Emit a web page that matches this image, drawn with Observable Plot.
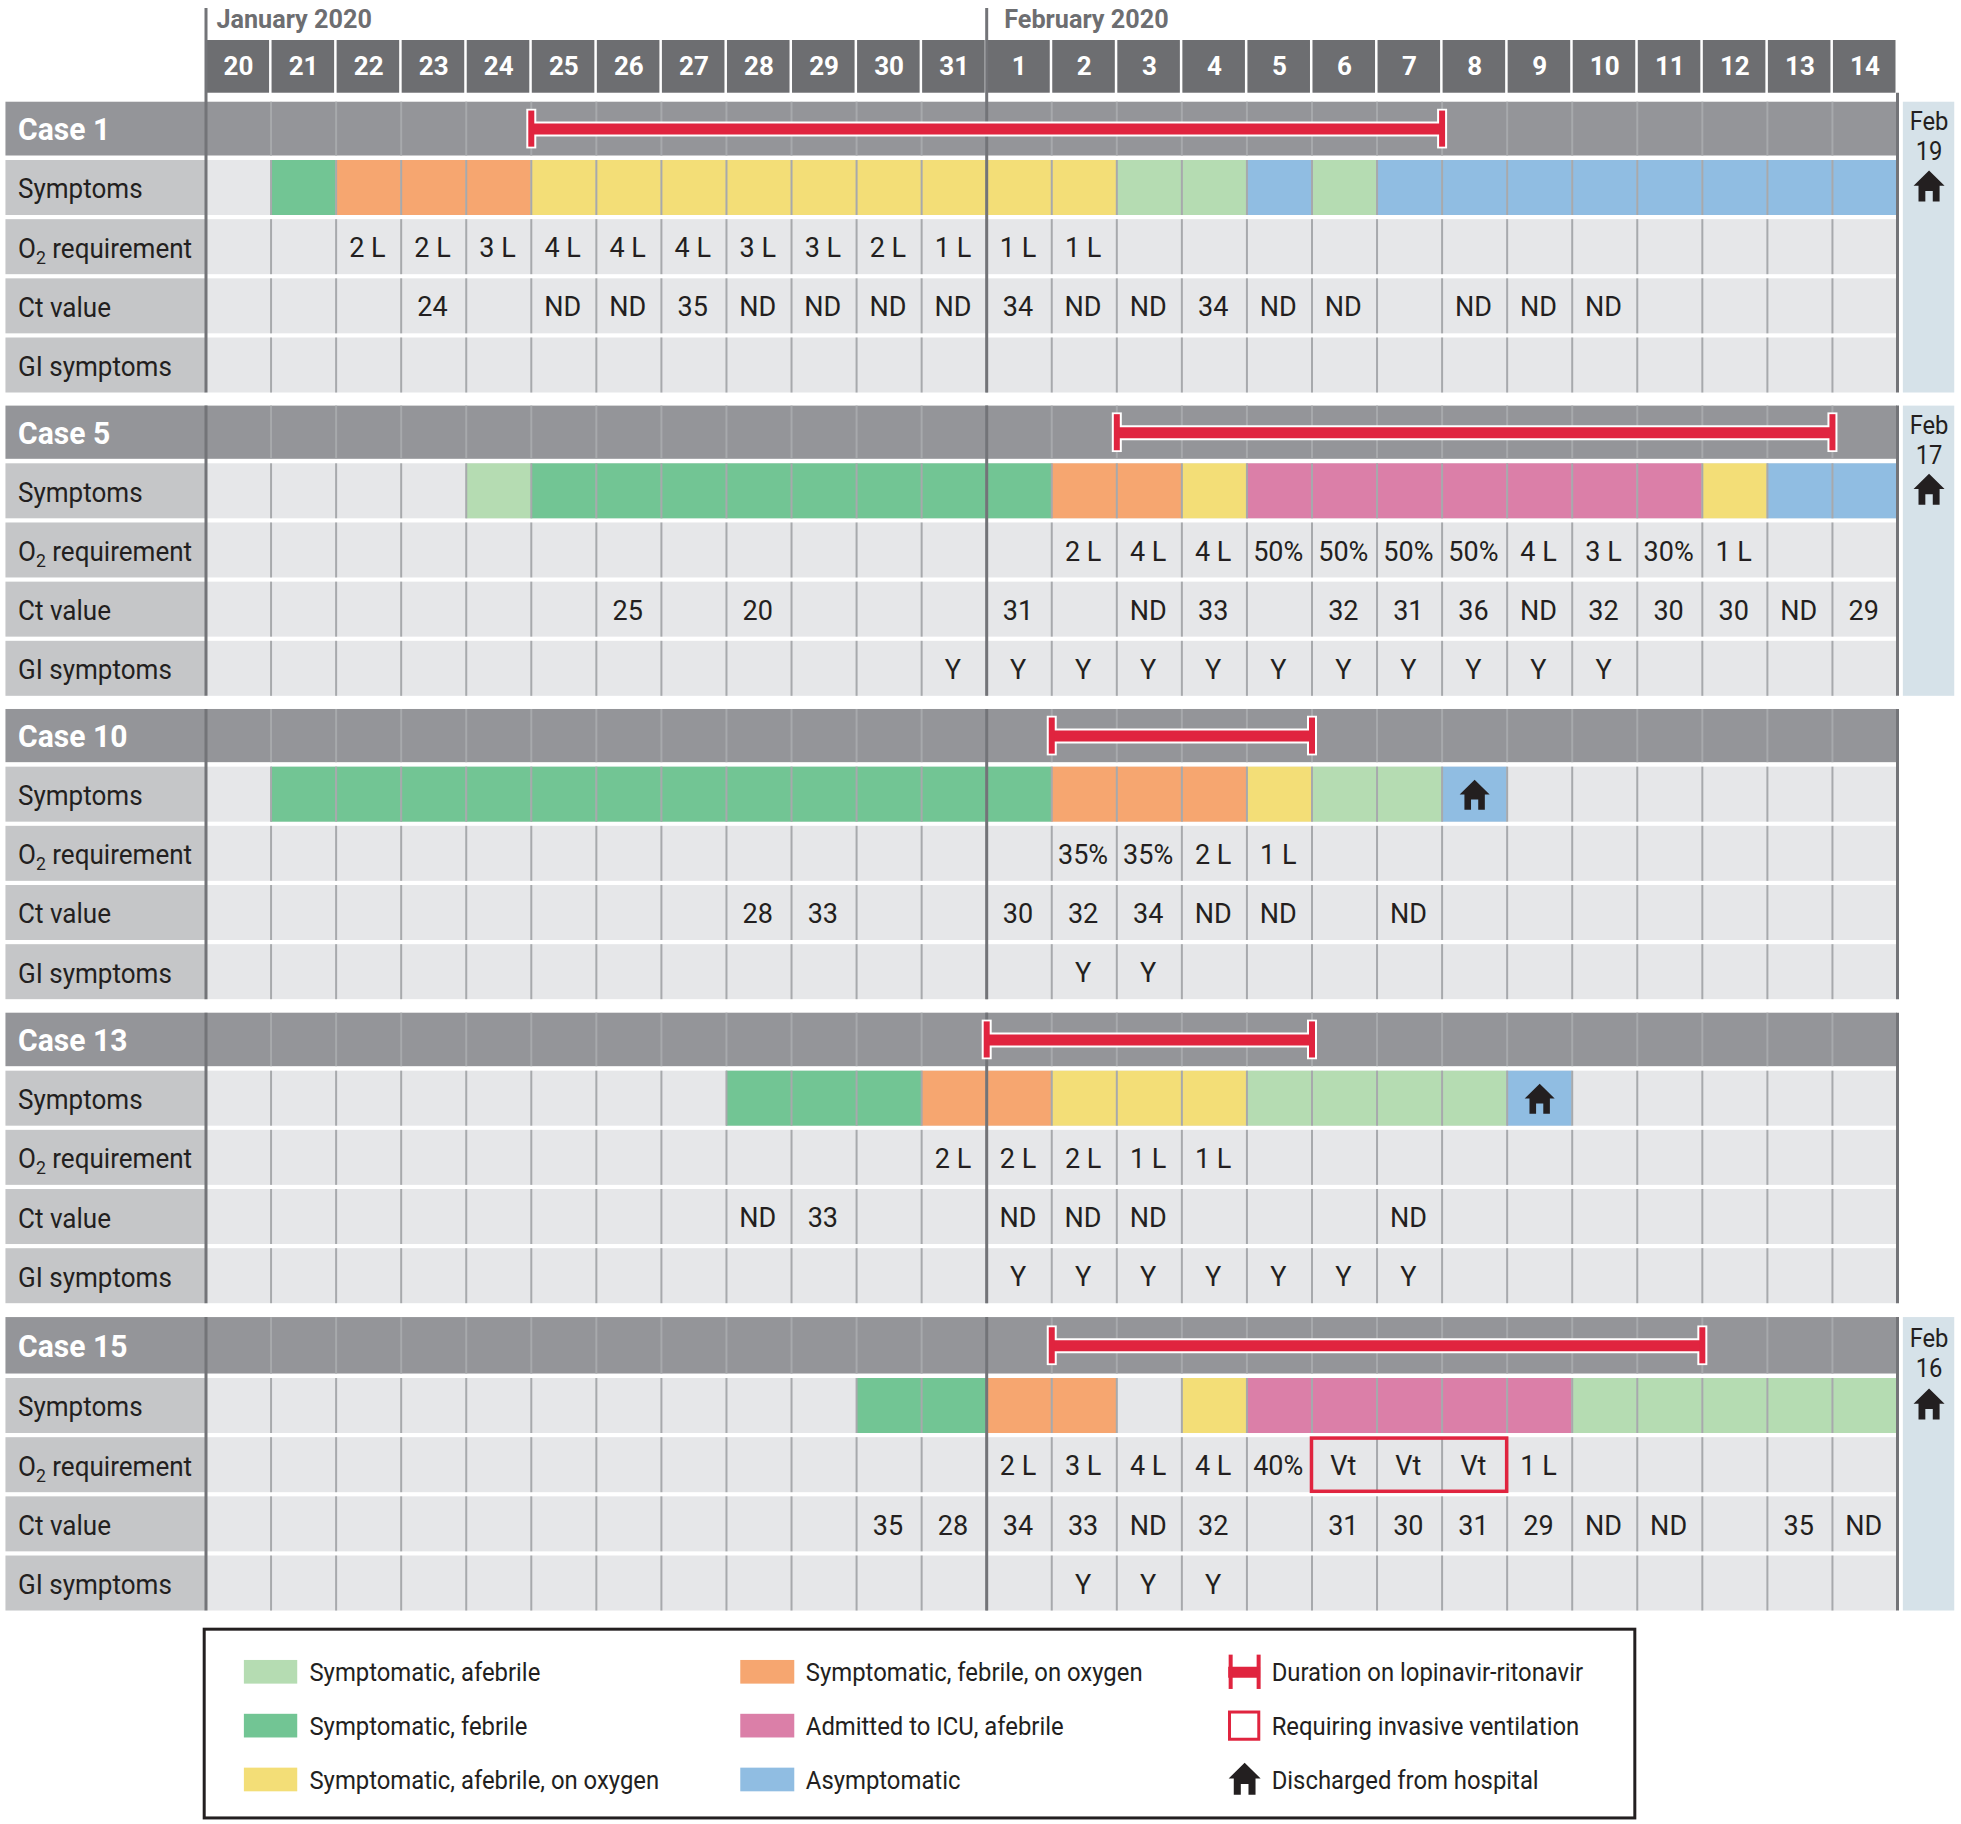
<!DOCTYPE html>
<html><head><meta charset="utf-8">
<style>html,body{margin:0;padding:0;background:#fff}svg{display:block}</style>
<script src="https://cdn.jsdelivr.net/npm/d3@7"></script>
<script src="https://cdn.jsdelivr.net/npm/@observablehq/plot@0.6"></script>
</head><body><script>
const days = ["20","21","22","23","24","25","26","27","28","29","30","31","1","2","3","4","5","6","7","8","9","10","11","12","13","14"];
const months = [{label:"January 2020",day:0.16},{label:"February 2020",day:12.27}];
const rowLabels = ["Symptoms","O₂ requirement","Ct value","GI symptoms"];
const caseNames = ["Case 1","Case 5","Case 10","Case 13","Case 15"];

const statusLabels = ["Symptomatic, afebrile","Symptomatic, febrile","Symptomatic, afebrile, on oxygen","Symptomatic, febrile, on oxygen","Admitted to ICU, afebrile","Asymptomatic"];
const statusColors = ["#B5DCB2","#72C594","#F3DE77","#F6A670","#DB7FA8","#90BDE2"];
// a=afebrile f=febrile y=afebrile+O2 o=febrile+O2 p=ICU b=asymptomatic, one letter per day, . = none
const statusCodes = "afyopb";
const symptoms1  = ".fooo" + "yyyyyyy" + "yy" + "aa" + "b" + "a" + "bbbbbbbb";
const symptoms5  = "....a" + "fffffff" + "f" + "oo" + "y" + "ppppppp" + "y" + "bb";
const symptoms10 = ".ffff" + "fffffff" + "f" + "ooo" + "y" + "aa" + "b" + "......";
const symptoms13 = "....." + "..." + "fff" + "o" + "o" + "yyy" + "aaaa" + "b" + ".....";
const symptoms15 = "....." + "....." + "ff" + "oo" + "." + "y" + "ppppp" + "aaaaa";
const o2_1  = ["","","2 L","2 L","3 L","4 L","4 L","4 L","3 L","3 L","2 L","1 L","1 L","1 L","","","","","","","","","","","",""];
const o2_5  = ["","","","","","","","","","","","","","2 L","4 L","4 L","50%","50%","50%","50%","4 L","3 L","30%","1 L","",""];
const o2_10 = ["","","","","","","","","","","","","","35%","35%","2 L","1 L","","","","","","","","",""];
const o2_13 = ["","","","","","","","","","","","2 L","2 L","2 L","1 L","1 L","","","","","","","","","",""];
const o2_15 = ["","","","","","","","","","","","","2 L","3 L","4 L","4 L","40%","Vt","Vt","Vt","1 L","","","","",""];
const ct_1  = ["","","","24","","ND","ND","35","ND","ND","ND","ND","34","ND","ND","34","ND","ND","","ND","ND","ND","","","",""];
const ct_5  = ["","","","","","","25","","20","","","","31","","ND","33","","32","31","36","ND","32","30","30","ND","29"];
const ct_10 = ["","","","","","","","","28","33","","","30","32","34","ND","ND","","ND","","","","","","",""];
const ct_13 = ["","","","","","","","","ND","33","","","ND","ND","ND","","","","ND","","","","","","",""];
const ct_15 = ["","","","","","","","","","","35","28","34","33","ND","32","","31","30","31","29","ND","ND","","35","ND"];
const gi_1  = "..........................";
const gi_5  = "...........YYYYYYYYYYY....";
const gi_10 = ".............YY...........";
const gi_13 = "............YYYYYYY.......";
const gi_15 = ".............YYY..........";
const symptomSeries = [symptoms1,symptoms5,symptoms10,symptoms13,symptoms15];
const o2Series = [o2_1,o2_5,o2_10,o2_13,o2_15];
const ctSeries = [ct_1,ct_5,ct_10,ct_13,ct_15];
const giSeries = [gi_1,gi_5,gi_10,gi_13,gi_15];
const drugStart = [5,14,13,12,13];
const drugEnd   = [19,25,17,17,23];
const dischargeLabel = [["Feb","19"],["Feb","17"],null,null,["Feb","16"]];
const dischargeDay = [null,null,19,20,null];
const ventStart = [null,null,null,null,17];
const ventEnd   = [null,null,null,null,20];

const legendFill = [{i:0,col:0,row:0},{i:1,col:0,row:1},{i:2,col:0,row:2},{i:3,col:1,row:0},{i:4,col:1,row:1},{i:5,col:1,row:2}];
const legendOther = ["Duration on lopinavir-ritonavir","Requiring invasive ventilation","Discharged from hospital"];

// layout, in scale units (days across, rows down)
const font = 'Roboto,sans-serif';
const caseBase = [0,5.126,10.253,15.391,20.585], headTop = [0.015,0.025,0.025,0.02,-0.03], headBottom = 0.924;
const cellH = 0.9295, ink = "#231F20", red = "#E0243F";
const grid = "#A7A9AC", dark = "#6D6E71", frame = "#737478";
const left = -3.075, labelX = -2.89, sideL = 26.09, sideR = 26.88, sideC = 26.485;
const legendX = [0.59,8.22,15.72], legendW = [0.82,0.83,0.49], legendText = [1.59,9.22,16.38];
const legendY = [26.55,27.46,28.37];
const rowTop = (c,r) => caseBase[c] + r;
const headMid = c => caseBase[c] + (headTop[c]+headBottom)/2;

const cases = caseNames.map((name,c)=>({name,c}));
const allRows = cases.flatMap(({c})=>[1,2,3,4].map(r=>({c,r})));
const cells = [];
symptomSeries.forEach((s,c)=>[...s].forEach((k,day)=>{ if(k!==".") cells.push({c,day,status:statusLabels[statusCodes.indexOf(k)]}); }));
const texts = [];
[[o2Series,2],[ctSeries,3]].forEach(([series,r])=>series.forEach((vals,c)=>vals.forEach((t,day)=>{ if(t) texts.push({c,r,day,t}); })));
giSeries.forEach((s,c)=>[...s].forEach((k,day)=>{ if(k==="Y") texts.push({c,r:4,day,t:"Y"}); }));
const gridLines = allRows.flatMap(({c,r})=>d3.range(1,26).map(day=>({c,r,day,y1:rowTop(c,r),y2:rowTop(c,r)+cellH})))
  .concat(cases.flatMap(({c})=>d3.range(1,26).map(day=>({c,r:0,day,y1:caseBase[c]+headTop[c],y2:caseBase[c]+headBottom}))));
const drug = cases.map(({c})=>({c,a:drugStart[c],b:drugEnd[c]}));
const drugEnds = drug.flatMap(d=>[d.a,d.b].map(x=>({x,c:d.c})));
const sides = cases.filter(({c})=>dischargeLabel[c]).map(({c})=>({c,l:dischargeLabel[c]}));
const vents = cases.filter(({c})=>ventStart[c]!=null).map(({c})=>({c,a:ventStart[c],b:ventEnd[c]}));
const homes = cases.filter(({c})=>dischargeDay[c]!=null).map(({c})=>({c,day:dischargeDay[c]}));

const house = {draw(ctx,size){const r=Math.sqrt(size/Math.PI);
  ctx.moveTo(0,-r);ctx.lineTo(r,-0.02*r);ctx.lineTo(0.68*r,-0.02*r);ctx.lineTo(0.68*r,r);ctx.lineTo(0.24*r,r);ctx.lineTo(0.24*r,0.32*r);
  ctx.lineTo(-0.24*r,0.32*r);ctx.lineTo(-0.24*r,r);ctx.lineTo(-0.68*r,r);ctx.lineTo(-0.68*r,-0.02*r);ctx.lineTo(-r,-0.02*r);ctx.closePath();}};

const chart = Plot.plot({
  width:1961,height:1824,margin:0,
  x:{domain:[0,26],range:[205.5,1897],axis:null},
  y:{domain:[0,1],range:[100.83,160],axis:null},
  color:{domain:statusLabels,range:statusColors},
  style:{background:"#fff",fontFamily:font},
  marks:[
    // column headers
    Plot.rect(days,{x1:(d,i)=>i,x2:(d,i)=>i+1,y1:-1.028,y2:-0.137,fill:dark,insetRight:1.5,insetLeft:1}),
    Plot.text(days,{x:(d,i)=>i+0.5,y:-0.585,text:d=>d,fill:"#fff",fontSize:26,fontWeight:"bold",fontFamily:font}),
    Plot.text(months,{x:"day",y:-1.383,text:"label",fill:dark,fontSize:25.2,fontWeight:"bold",textAnchor:"start",fontFamily:font}),
    // side panels
    Plot.rect(sides,{x1:sideL,x2:sideR,y1:d=>caseBase[d.c]+headTop[d.c],y2:d=>rowTop(d.c,4)+cellH,fill:"#D6E2E9"}),
    // row bands
    Plot.rect(cases,{x1:left,x2:26,y1:d=>caseBase[d.c]+headTop[d.c],y2:d=>caseBase[d.c]+headBottom,fill:"#949599"}),
    Plot.rect(allRows,{x1:left,x2:0,y1:d=>rowTop(d.c,d.r),y2:d=>rowTop(d.c,d.r)+cellH,fill:"#C5C6C8"}),
    Plot.rect(allRows,{x1:0,x2:26,y1:d=>rowTop(d.c,d.r),y2:d=>rowTop(d.c,d.r)+cellH,fill:"#E6E7E9"}),
    // symptom states
    Plot.rect(cells,{x1:"day",x2:d=>d.day+1,y1:d=>rowTop(d.c,1),y2:d=>rowTop(d.c,1)+cellH,fill:"status"}),
    // day separators
    Plot.ruleX(gridLines,{x:"day",y1:"y1",y2:"y2",stroke:grid,strokeWidth:2}),
    // frame lines
    Plot.ruleX([0,12],{x:d=>d,y1:-1.569,y2:cellH+4,stroke:frame,strokeWidth:3}),
    Plot.ruleX(cases.slice(1).flatMap(d=>[0,12].map(x=>({x,c:d.c}))),{x:"x",y1:d=>caseBase[d.c]+headTop[d.c],y2:d=>rowTop(d.c,4)+cellH,stroke:frame,strokeWidth:3}),
    Plot.ruleX(cases,{x:26,y1:d=>d.c===0?-0.137:caseBase[d.c]+headTop[d.c],y2:d=>rowTop(d.c,4)+cellH,stroke:frame,strokeWidth:3}),
    // row labels
    Plot.text(cases,{x:labelX,y:d=>headMid(d.c),dy:1,text:"name",fill:"#fff",fontSize:31,fontWeight:"bold",textAnchor:"start",fontFamily:font}),
    Plot.text(allRows,{x:labelX,y:d=>rowTop(d.c,d.r)+0.465,dy:1.5,text:d=>rowLabels[d.r-1],fill:ink,fontSize:28,textAnchor:"start",fontFamily:font}),
    // drug bars
    Plot.ruleY(drug,{y:d=>headMid(d.c),x1:"a",x2:"b",stroke:"#fff",strokeWidth:15}),
    Plot.ruleX(drugEnds,{x:"x",y1:d=>headMid(d.c)-0.335,y2:d=>headMid(d.c)+0.335,stroke:"#fff",strokeWidth:10}),
    Plot.ruleY(drug,{y:d=>headMid(d.c),x1:"a",x2:"b",stroke:red,strokeWidth:11}),
    Plot.ruleX(drugEnds,{x:"x",y1:d=>headMid(d.c)-0.305,y2:d=>headMid(d.c)+0.305,stroke:red,strokeWidth:6}),
    // ventilation box
    Plot.rect(vents,{x1:"a",x2:"b",y1:d=>rowTop(d.c,2)+0.015,y2:d=>rowTop(d.c,2)+cellH-0.015,fill:"none",stroke:red,strokeWidth:3.5}),
    // cell text
    Plot.text(texts,{x:d=>d.day+0.5,y:d=>rowTop(d.c,d.r)+0.465,dx:-1.2,dy:1.5,text:"t",fill:ink,fontSize:27,fontFamily:font}),
    // discharge markers
    Plot.dot(homes,{x:d=>d.day+0.5,y:d=>rowTop(d.c,1)+0.465,symbol:house,r:15,fill:ink,stroke:"none"}),
    Plot.text(sides,{x:sideC,y:d=>headMid(d.c)-0.12,text:d=>d.l[0],fill:ink,fontSize:25,fontFamily:font}),
    Plot.text(sides,{x:sideC,y:d=>headMid(d.c)+0.395,text:d=>d.l[1],fill:ink,fontSize:25,fontFamily:font}),
    Plot.dot(sides,{x:sideC,y:d=>rowTop(d.c,0)+1.43,symbol:house,r:15.5,fill:ink,stroke:"none"}),
    // legend
    Plot.rect([0],{x1:-0.02,x2:21.97,y1:25.83,y2:29.02,fill:"none",stroke:ink,strokeWidth:3}),
    Plot.rect(legendFill,{x1:d=>legendX[d.col],x2:d=>legendX[d.col]+legendW[d.col],y1:d=>legendY[d.row]-0.2,y2:d=>legendY[d.row]+0.2,fill:d=>statusLabels[d.i]}),
    Plot.text(legendFill,{x:d=>legendText[d.col],y:d=>legendY[d.row],dy:0.5,text:d=>statusLabels[d.i],fill:ink,fontSize:26.5,textAnchor:"start",fontFamily:font}),
    Plot.text(legendOther,{x:legendText[2],y:(d,i)=>legendY[i],dy:0.5,text:d=>d,fill:ink,fontSize:26.5,textAnchor:"start",fontFamily:font}),
    Plot.ruleY([legendY[0]],{x1:legendX[2],x2:legendX[2]+legendW[2],stroke:red,strokeWidth:11}),
    Plot.ruleX([legendX[2]+0.03,legendX[2]+legendW[2]-0.03],{y1:legendY[0]-0.29,y2:legendY[0]+0.29,stroke:red,strokeWidth:4}),
    Plot.rect([0],{x1:legendX[2]+0.02,x2:legendX[2]+legendW[2]-0.02,y1:legendY[1]-0.23,y2:legendY[1]+0.23,fill:"none",stroke:red,strokeWidth:3}),
    Plot.dot([0],{x:legendX[2]+legendW[2]/2,y:legendY[2]-0.02,symbol:house,r:16,fill:ink,stroke:"none"})
  ]
});
document.body.appendChild(chart);

// Narrow the installed sans to the reference's condensed widths, and set the subscript.
const squeeze = {"28px":0.93,"26.5px":0.9,"25px":0.95,"31px":0.97};
chart.querySelectorAll("text").forEach(t=>{
  const size = getComputedStyle(t).fontSize;
  if (t.textContent.includes("₂")) {
    const [a,b] = t.textContent.split("₂");
    t.textContent = a;
    const sub = document.createElementNS("http://www.w3.org/2000/svg","tspan");
    sub.textContent = "2"; sub.setAttribute("dy","6"); sub.setAttribute("font-size","19");
    const rest = document.createElementNS("http://www.w3.org/2000/svg","tspan");
    rest.textContent = b; rest.setAttribute("dy","-6");
    t.append(sub,rest);
  }
  const k = squeeze[size];
  if (k) { t.setAttribute("textLength", t.getComputedTextLength()*k); t.setAttribute("lengthAdjust","spacingAndGlyphs"); }
});
</script></body></html>
